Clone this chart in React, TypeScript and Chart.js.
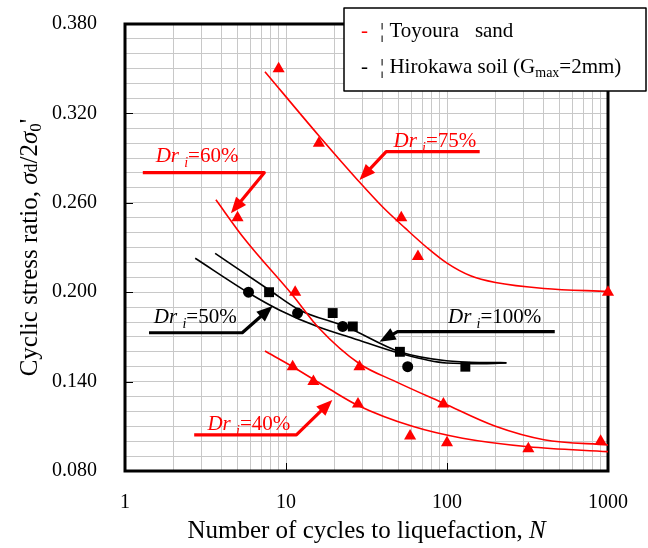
import React, { useEffect, useRef } from "react";
import { Chart, registerables } from "chart.js";

Chart.register(...registerables);

const SERIF = "'Liberation Serif', 'Times New Roman', Times, serif";

// ---- Toyoura sand: measured points ----
const T75_N = [9, 16, 52, 66, 1000];
const T75_CSR = [0.35, 0.3, 0.25, 0.224, 0.2];
const T60_N = [5, 11.4, 28.6, 95, 900];
const T60_CSR = [0.25, 0.2, 0.15, 0.125, 0.1];
const T40_N = [11, 14.8, 28, 59, 100, 320];
const T40_CSR = [0.15, 0.14, 0.125, 0.1035, 0.099, 0.095];

// ---- Hirokawa soil: measured points ----
const H_CIRCLE_N = [5.85, 11.8, 22.5, 57];
const H_CIRCLE_CSR = [0.2, 0.186, 0.177, 0.15];
const H_SQUARE_N = [7.85, 19.5, 26, 51, 130];
const H_SQUARE_CSR = [0.2, 0.186, 0.177, 0.16, 0.15];

// ---- fitted curves ----
const C75_N = [7.4, 16, 28, 40, 55, 75, 100, 140, 200, 400, 1000];
const C75_CSR = [0.348, 0.305, 0.275, 0.257, 0.243, 0.23, 0.2195, 0.211, 0.2065, 0.2025, 0.2005];
const C60_N = [3.67, 5.5, 11, 16, 28.6, 48, 95, 200, 400, 1000];
const C60_CSR = [0.262, 0.236, 0.198, 0.176, 0.152, 0.14, 0.1255, 0.11, 0.101, 0.0975];
const C40_N = [7.4, 11, 18.6, 28, 61, 125, 320, 1000];
const C40_CSR = [0.1605, 0.15, 0.135, 0.124, 0.11, 0.102, 0.0963, 0.093];
const CH50_N = [2.73, 5.91, 9.08, 16.1, 26, 50.7, 99, 170, 234];
const CH50_CSR = [0.2228, 0.1993, 0.1881, 0.1764, 0.1691, 0.159, 0.1525, 0.152, 0.1525];
const CH100_N = [3.63, 7.87, 12.1, 23.6, 50.7, 99, 170, 234];
const CH100_CSR = [0.2261, 0.2015, 0.1881, 0.1768, 0.1601, 0.154, 0.1528, 0.1527];

// ---- axes ----
const X_GRID = [1, 2, 3, 4, 5, 6, 7, 8, 9, 10, 20, 30, 40, 50, 60, 70, 80, 90, 100, 200, 300, 400, 500, 600, 700, 800, 900, 1000];
const X_TICK_LABELS = ["1", "10", "100", "1000"];
const Y_TICK_LABELS = ["0.080", "0.140", "0.200", "0.260", "0.320", "0.380"];
const Y_MIN = 0.08;
const Y_MAX = 0.38;
const Y_STEP = 0.01;

// ---- annotations (data coordinates) ----
const LABEL_TEXT = ["=75%", "=60%", "=50%", "=100%", "=40%"];
const LABEL_COLOR = ["#ff0000", "#ff0000", "#000000", "#000000", "#ff0000"];
const LABEL_N = [46.5, 1.55, 1.51, 101.4, 3.25];
const LABEL_CSR = [0.2974, 0.2876, 0.1791, 0.1791, 0.1075];
const ARROW_75 = [[159.6, 0.2943], [41.9, 0.2943], [28.6, 0.2753]];
const ARROW_60 = [[1.29, 0.2802], [7.33, 0.2802], [4.55, 0.253]];
const ARROW_50 = [[1.41, 0.1728], [5.35, 0.1728], [8.26, 0.1907]];
const ARROW_100 = [[467, 0.1735], [49.3, 0.1735], [38.1, 0.1668]];
const ARROW_40 = [[2.69, 0.1042], [11.6, 0.1042], [19.4, 0.1277]];
const ARROWS = [ARROW_75, ARROW_60, ARROW_50, ARROW_100, ARROW_40];

const RED = "#ff0000";
const BLACK = "#000000";

function pts(xs: number[], ys: number[]) {
  return xs.map((x, i) => ({ x, y: ys[i] }));
}

type Part = { t: string; size: number; italic?: boolean; dy?: number };

function fontOf(p: Part) {
  return `${p.italic ? "italic " : ""}${p.size}px ${SERIF}`;
}
function richWidth(ctx: CanvasRenderingContext2D, parts: Part[]) {
  let w = 0;
  for (const p of parts) {
    ctx.font = fontOf(p);
    w += ctx.measureText(p.t).width;
  }
  return w;
}
function drawRich(ctx: CanvasRenderingContext2D, x: number, y: number, parts: Part[], color: string) {
  ctx.fillStyle = color;
  ctx.textBaseline = "alphabetic";
  ctx.textAlign = "left";
  let cx = x;
  for (const p of parts) {
    ctx.font = fontOf(p);
    ctx.fillText(p.t, cx, y + (p.dy || 0));
    cx += ctx.measureText(p.t).width;
  }
}

function drawArrow(ctx: CanvasRenderingContext2D, p: number[][], color: string) {
  const head = 16;
  const half = 6.5;
  const n = p.length;
  const [tx, ty] = p[n - 1];
  const [px, py] = p[n - 2];
  const ang = Math.atan2(ty - py, tx - px);
  const bx = tx - Math.cos(ang) * head;
  const by = ty - Math.sin(ang) * head;
  ctx.strokeStyle = color;
  ctx.fillStyle = color;
  ctx.lineWidth = 3.2;
  ctx.lineJoin = "round";
  ctx.beginPath();
  ctx.moveTo(p[0][0], p[0][1]);
  for (let i = 1; i < n - 1; i++) ctx.lineTo(p[i][0], p[i][1]);
  ctx.lineTo(bx + Math.cos(ang) * 2, by + Math.sin(ang) * 2);
  ctx.stroke();
  ctx.beginPath();
  ctx.moveTo(tx, ty);
  ctx.lineTo(bx + Math.sin(ang) * half, by - Math.cos(ang) * half);
  ctx.lineTo(bx - Math.sin(ang) * half, by + Math.cos(ang) * half);
  ctx.closePath();
  ctx.fill();
}

const decoPlugin = {
  id: "deco",
  beforeDatasetsDraw(chart: any) {
    const { ctx, chartArea: a, scales } = chart;
    ctx.save();
    ctx.strokeStyle = BLACK;
    ctx.lineWidth = 1;
    ctx.beginPath();
    for (const l of X_TICK_LABELS) {
      const x = Math.round(scales.x.getPixelForValue(Number(l))) + 0.5;
      ctx.moveTo(x, a.bottom);
      ctx.lineTo(x, a.bottom - 8);
    }
    for (const l of Y_TICK_LABELS) {
      const y = Math.round(scales.y.getPixelForValue(Number(l))) + 0.5;
      ctx.moveTo(a.left, y);
      ctx.lineTo(a.left + 8, y);
    }
    ctx.stroke();
    ctx.lineWidth = 3;
    ctx.strokeRect(a.left, a.top, a.right - a.left, a.bottom - a.top);
    ctx.restore();
  },
  afterDraw(chart: any) {
    const { ctx, chartArea: a, scales } = chart;
    const X = (v: number) => scales.x.getPixelForValue(v);
    const Y = (v: number) => scales.y.getPixelForValue(v);
    ctx.save();

    // arrows
    ARROWS.forEach((arr, i) => {
      drawArrow(ctx, arr.map(([n, c]) => [X(n), Y(c)]), LABEL_COLOR[i]);
    });

    // annotation labels  "Dr i =xx%"
    LABEL_TEXT.forEach((t, i) => {
      drawRich(ctx, X(LABEL_N[i]), Y(LABEL_CSR[i]), [
        { t: "Dr", size: 21, italic: true },
        { t: " ", size: 21 },
        { t: "i", size: 14, italic: true, dy: 5 },
        { t: t, size: 21 },
      ], LABEL_COLOR[i]);
    });

    // legend box
    const lx = 344, ly = 8, lw = 302, lh = 83;
    ctx.fillStyle = "#ffffff";
    ctx.fillRect(lx, ly, lw, lh);
    ctx.strokeStyle = BLACK;
    ctx.lineWidth = 1.5;
    ctx.strokeRect(lx, ly, lw, lh);
    drawRich(ctx, 361, 37, [{ t: "-", size: 21 }], RED);
    drawRich(ctx, 380, 37, [{ t: "\u00a6 Toyoura   sand", size: 21 }], BLACK);
    drawRich(ctx, 361, 73, [{ t: "-", size: 21 }], BLACK);
    drawRich(ctx, 380, 73, [
      { t: "\u00a6 Hirokawa soil (G", size: 21 },
      { t: "max", size: 14, dy: 4 },
      { t: "=2mm)", size: 21 },
    ], BLACK);

    // x-axis title
    const xParts: Part[] = [
      { t: "Number of cycles to liquefaction, ", size: 25 },
      { t: "N", size: 25, italic: true },
    ];
    const xw = richWidth(ctx, xParts);
    drawRich(ctx, (a.left + a.right) / 2 - xw / 2, 538, xParts, BLACK);

    // y-axis title
    const yParts: Part[] = [
      { t: "Cyclic stress ratio, ", size: 25 },
      { t: "\u03c3", size: 25, italic: true },
      { t: "d", size: 18 },
      { t: "/2", size: 25 },
      { t: "\u03c3", size: 25, italic: true },
      { t: "0", size: 17, dy: 4 },
      { t: "'", size: 25 },
    ];
    const yw = richWidth(ctx, yParts);
    ctx.translate(37, (a.top + a.bottom) / 2);
    ctx.rotate(-Math.PI / 2);
    drawRich(ctx, -yw / 2, 0, yParts, BLACK);
    ctx.restore();
  },
};

export default function App() {
  const ref = useRef<HTMLCanvasElement | null>(null);
  useEffect(() => {
    if (!ref.current) return;
    Chart.defaults.font.family = SERIF;
    const yTicks: number[] = [];
    for (let i = 0; i <= Math.round((Y_MAX - Y_MIN) / Y_STEP); i++) {
      yTicks.push(Number((Y_MIN + i * Y_STEP).toFixed(3)));
    }
    const curve = (xs: number[], ys: number[], color: string) => ({
      type: "scatter" as const,
      data: pts(xs, ys),
      showLine: true,
      borderColor: color,
      borderWidth: 1.6,
      pointRadius: 0,
      pointHoverRadius: 0,
      cubicInterpolationMode: "monotone" as const,
      fill: false,
      clip: false as const,
    });
    const marks = (xs: number[], ys: number[], color: string, style: string, r: number) => ({
      type: "scatter" as const,
      data: pts(xs, ys),
      showLine: false,
      pointStyle: style,
      pointRadius: r,
      pointBackgroundColor: color,
      pointBorderColor: color,
      pointBorderWidth: 0,
      clip: false as const,
    });
    const chart = new Chart(ref.current, {
      type: "scatter",
      data: {
        datasets: [
          curve(C75_N, C75_CSR, RED),
          curve(C60_N, C60_CSR, RED),
          curve(C40_N, C40_CSR, RED),
          curve(CH50_N, CH50_CSR, BLACK),
          curve(CH100_N, CH100_CSR, BLACK),
          marks(T75_N, T75_CSR, RED, "triangle", 7),
          marks(T60_N, T60_CSR, RED, "triangle", 7),
          marks(T40_N, T40_CSR, RED, "triangle", 7),
          marks(H_CIRCLE_N, H_CIRCLE_CSR, BLACK, "circle", 5.5),
          marks(H_SQUARE_N, H_SQUARE_CSR, BLACK, "rect", 7),
        ] as any,
      },
      options: {
        responsive: false,
        animation: false,
        events: [],
        layout: { padding: { left: 0, top: 24, right: 40, bottom: 0 } },
        plugins: { legend: { display: false }, tooltip: { enabled: false }, title: { display: false } },
        scales: {
          x: {
            type: "logarithmic",
            min: 1,
            max: 1000,
            afterBuildTicks: (s: any) => {
              s.ticks = X_GRID.map((v) => ({ value: v }));
            },
            afterFit: (s: any) => {
              s.height = 77;
              s.paddingLeft = 0;
              s.paddingRight = 0;
            },
            ticks: {
              autoSkip: false,
              maxRotation: 0,
              minRotation: 0,
              padding: 20,
              color: BLACK,
              font: { family: SERIF, size: 20 },
              callback: (v: any) => (X_TICK_LABELS.includes(String(v)) ? String(v) : ""),
            },
            grid: { color: "#c8c8c8", lineWidth: 1, drawTicks: false },
            border: { display: false },
          },
          y: {
            type: "linear",
            min: Y_MIN,
            max: Y_MAX,
            afterBuildTicks: (s: any) => {
              s.ticks = yTicks.map((v) => ({ value: v }));
            },
            afterFit: (s: any) => {
              s.width = 125;
              s.paddingTop = 0;
              s.paddingBottom = 0;
            },
            ticks: {
              autoSkip: false,
              padding: 28,
              color: BLACK,
              font: { family: SERIF, size: 20 },
              callback: (v: any) => {
                const s = Number(v).toFixed(3);
                return Y_TICK_LABELS.includes(s) ? s : "";
              },
            },
            grid: { color: "#c8c8c8", lineWidth: 1, drawTicks: false },
            border: { display: false },
          },
        },
      },
      plugins: [decoPlugin],
    } as any);
    return () => chart.destroy();
  }, []);
  return (
    <div style={{ position: "absolute", left: 0, top: 0, width: 648, height: 548, background: "#fff" }}>
      <canvas ref={ref} width={648} height={548} style={{ width: 648, height: 548 }} />
    </div>
  );
}
